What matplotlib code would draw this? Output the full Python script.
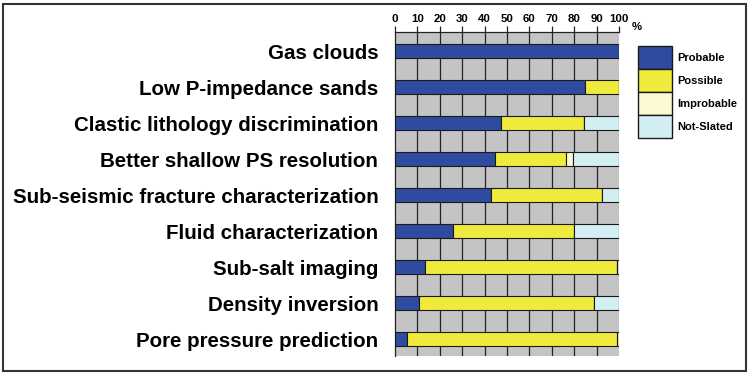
import matplotlib
matplotlib.use("Agg")
import matplotlib.pyplot as plt
from matplotlib.patches import Rectangle, Patch
import numpy as np

categories = ["Gas clouds", "Low P-impedance sands", "Clastic lithology discrimination",
              "Better shallow PS resolution", "Sub-seismic fracture characterization",
              "Fluid characterization", "Sub-salt imaging", "Density inversion",
              "Pore pressure prediction"]
probable   = [100, 85, 47.5, 44.5, 43, 26, 13.5, 10.5, 5.5]
possible   = [0, 15, 37, 32, 49.5, 54, 85.5, 78.5, 93.5]
improbable = [0, 0, 0, 3, 0, 0, 0, 0, 1]
not_slated = [0, 0, 15.5, 20.5, 7.5, 20, 1, 11, 0]
series_names = ["Probable", "Possible", "Improbable", "Not-Slated"]
series_colors = ["#2E4B9F", "#EFEA3C", "#FBF8D2", "#D2EEF3"]
xticks = [0, 10, 20, 30, 40, 50, 60, 70, 80, 90, 100]

sans = ['Liberation Sans', 'DejaVu Sans']

fig = plt.figure(figsize=(7.5, 3.75), dpi=100)
ax = fig.add_axes([395/750, 1-356/375, (619-395)/750, (356-32)/375])
ax.set_facecolor("#C4C4C4")

y = np.arange(len(categories))
left = np.zeros(len(categories))
for vals, name, col in zip([probable, possible, improbable, not_slated], series_names, series_colors):
    vals = np.array(vals, dtype=float)
    ax.barh(y, vals, left=left, height=0.39, color=col, edgecolor="#1a1a1a",
            linewidth=0.8, label=name, zorder=3)
    left += vals

ax.set_xlim(0, 100)
ax.set_ylim(8.47, -0.53)
for xv in xticks[1:-1]:
    ax.axvline(xv, color="#222222", lw=0.9, zorder=1)
ax.xaxis.tick_top()
ax.set_xticks(xticks)
ax.set_xticklabels([str(t) for t in xticks], family=sans, fontweight='bold', fontsize=8.2)
ax.tick_params(axis='x', length=4, width=0.9, color="#222222", pad=2)
ax.text(1.055, 1.0, "%", transform=ax.transAxes, family=sans, fontweight='bold',
        fontsize=8.2, va='bottom', ha='left')
ax.set_yticks(y)
ax.set_yticklabels(categories, family=sans, fontweight='bold', fontsize=14.8)
ax.tick_params(axis='y', length=0, pad=12)
for s in ["right", "bottom"]:
    ax.spines[s].set_visible(False)
ax.spines["top"].set_color("#222222")
ax.spines["left"].set_color("#222222")
ax.spines["top"].set_linewidth(0.9)
ax.spines["left"].set_linewidth(0.9)

handles = [Patch(facecolor=c, edgecolor="#1a1a1a", linewidth=1.0) for c in series_colors]
leg = fig.legend(handles, series_names, loc='upper left', bbox_to_anchor=(638/750, 1-46/375),
                 frameon=False, prop={'family': sans, 'weight': 'bold', 'size': 8},
                 handlelength=3.05, handleheight=2.8, labelspacing=0.0, handletextpad=0.45,
                 borderpad=0.0, borderaxespad=0)

fig.patches.append(Rectangle((3/750, 4/375), 743/750, 367/375, transform=fig.transFigure,
                             fill=False, edgecolor="#333333", lw=1.5))
fig.savefig("out.png", dpi=100)
